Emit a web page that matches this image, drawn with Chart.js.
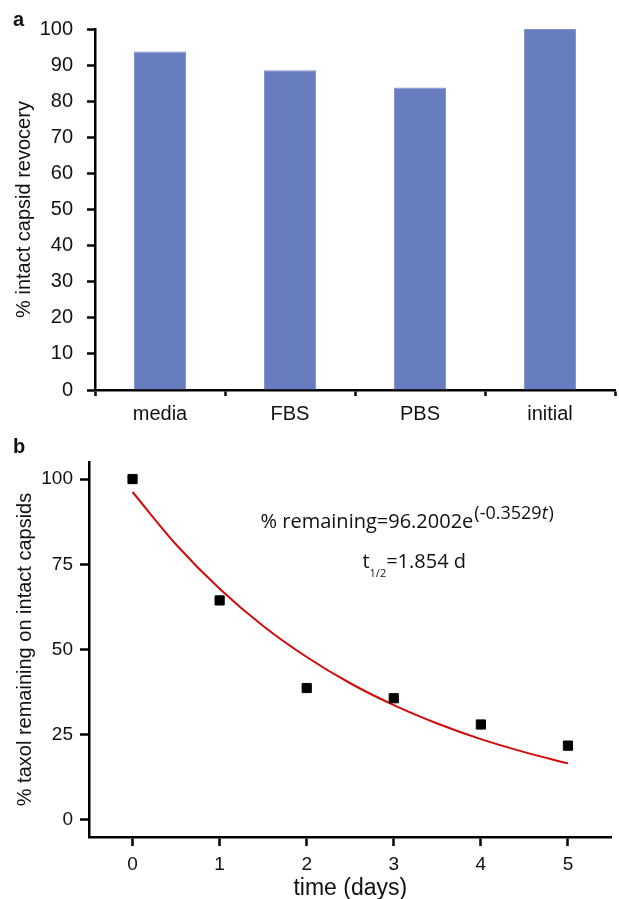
<!DOCTYPE html>
<html>
<head>
<meta charset="utf-8">
<script src="https://cdn.jsdelivr.net/npm/chart.js@4.4.1/dist/chart.umd.min.js"></script>
<style>
  body { margin: 0; background: #fff; width: 619px; height: 899px; position: relative; overflow: hidden; }
  .wrap { position: absolute; left: 0; }
  .panel { position: absolute; left: 13px; font: bold 20px "Liberation Sans", Arial, sans-serif; line-height: 23px; color: #111; }
</style>
</head>
<body>
<div class="wrap" style="top:0"><canvas id="barChart" width="619" height="440"></canvas></div>
<div class="wrap" style="top:440px"><canvas id="decayChart" width="619" height="459"></canvas></div>
<div class="panel" style="top:8px">a</div>
<div class="panel" style="top:435px">b</div>
<script>
// panel a
const barLabels = ['media', 'FBS', 'PBS', 'initial'];
const barValues = [93.8, 88.6, 83.8, 100];
const barTicks = [0, 10, 20, 30, 40, 50, 60, 70, 80, 90, 100];

// panel b - measured points
const dayValues = [0, 1, 2, 3, 4, 5];
const taxolValues = [100, 64.4, 38.7, 35.7, 28.0, 21.8];
// fitted curve
const fitDays = [0, 0.5, 1, 1.5, 2, 2.5, 3, 3.5, 4, 4.5, 5];
const fitValues = [96.2, 80.8, 67.8, 56.9, 47.8, 40.1, 33.7, 28.3, 23.7, 19.9, 16.6];
const taxolTicks = [0, 25, 50, 75, 100];
const dayTicks = [0, 1, 2, 3, 4, 5];

Chart.defaults.font.family = '"Liberation Sans", Arial, sans-serif';
Chart.defaults.color = '#111';
Chart.defaults.animation = false;

const axisLine = { display: true, color: '#000', width: 2.5 };

new Chart(document.getElementById('barChart'), {
    type: 'bar',
    data: {
        labels: barLabels,
        datasets: [{
            data: barValues,
            backgroundColor: '#677dbf',
            borderColor: '#8494cf',
            borderWidth: 1,
            barPercentage: 0.4,
            categoryPercentage: 1
        }]
    },
    options: {
        responsive: false,
        devicePixelRatio: 1,
        layout: { padding: { top: 29, right: 4, left: 0, bottom: 0 } },
        plugins: { legend: { display: false }, tooltip: { enabled: false } },
        scales: {
            x: {
                offset: true,
                grid: { offset: true, drawOnChartArea: false, tickLength: 6, tickColor: '#000', tickWidth: 2.5 },
                border: axisLine,
                ticks: { font: { size: 20 }, padding: 6, maxRotation: 0 },
                afterFit: s => { s.height = 50; }
            },
            y: {
                min: 0,
                max: 100,
                afterBuildTicks: s => { s.ticks = barTicks.map(v => ({ value: v })); },
                grid: { drawOnChartArea: false, tickLength: 8, tickColor: '#000', tickWidth: 2.5 },
                border: axisLine,
                ticks: { font: { size: 20 }, padding: 14 },
                title: { display: true, text: '% intact capsid revocery', font: { size: 20 }, padding: { top: 12, bottom: 0 } },
                afterFit: s => { s.width = 95; }
            }
        }
    }
});

// equation text for panel b
const equationText = {
    id: 'equationText',
    afterDraw(chart) {
        const ctx = chart.ctx;
        const x = chart.scales.x, y = chart.scales.y;
        ctx.save();
        ctx.fillStyle = '#111';
        ctx.textBaseline = 'middle';
        ctx.textAlign = 'left';

        let px = x.getPixelForValue(1.47);
        const py = y.getPixelForValue(87.3);
        ctx.font = '20px "Open Sans"';
        const main = '% remaining=96.2002e';
        ctx.fillText(main, px, py);
        px += ctx.measureText(main).width + 1;
        ctx.font = '18px "Open Sans"';
        ctx.fillText('(-0.3529', px, py - 8);
        px += ctx.measureText('(-0.3529').width;
        ctx.font = 'italic 18px "Open Sans"';
        ctx.fillText('t', px, py - 8);
        px += ctx.measureText('t').width + 1;
        ctx.font = '18px "Open Sans"';
        ctx.fillText(')', px, py - 8);

        let hx = x.getPixelForValue(2.64);
        const hy = y.getPixelForValue(75.6);
        ctx.font = '20px "Open Sans"';
        ctx.fillText('t', hx, hy);
        hx += ctx.measureText('t').width;
        ctx.font = '11px "Open Sans"';
        ctx.fillText('1/2', hx, hy + 12);
        hx += ctx.measureText('1/2').width;
        ctx.font = '20px "Open Sans"';
        ctx.fillText('=1.854 d', hx, hy);
        ctx.restore();
    }
};

new Chart(document.getElementById('decayChart'), {
    type: 'scatter',
    data: {
        datasets: [
            {
                data: dayValues.map((d, i) => ({ x: d, y: taxolValues[i] })),
                backgroundColor: '#000',
                borderColor: '#000',
                pointStyle: 'rect',
                pointRadius: 6.5,
                showLine: false,
                order: 0
            },
            {
                data: fitDays.map((d, i) => ({ x: d, y: fitValues[i] })),
                borderColor: '#d10a0a',
                borderWidth: 2,
                pointRadius: 0,
                showLine: true,
                cubicInterpolationMode: 'monotone',
                order: 1
            }
        ]
    },
    options: {
        responsive: false,
        devicePixelRatio: 1,
        layout: { padding: { top: 22, right: 2, left: 0, bottom: 0 } },
        plugins: { legend: { display: false }, tooltip: { enabled: false } },
        scales: {
            x: {
                min: -0.5,
                max: 5.5,
                afterBuildTicks: s => { s.ticks = dayTicks.map(v => ({ value: v })); },
                grid: { drawOnChartArea: false, tickLength: 9, tickColor: '#000', tickWidth: 2.5 },
                border: axisLine,
                ticks: { font: { size: 19 }, padding: 7 },
                title: { display: true, text: 'time (days)', font: { size: 23 }, padding: { top: 0, bottom: -3 } },
                afterFit: s => { s.height = 62; }
            },
            y: {
                min: -5,
                max: 105,
                afterBuildTicks: s => { s.ticks = taxolTicks.map(v => ({ value: v })); },
                grid: { drawOnChartArea: false, tickLength: 9, tickColor: '#000', tickWidth: 2.5 },
                border: axisLine,
                ticks: { font: { size: 19 }, padding: 7 },
                title: { display: true, text: '% taxol remaining on intact capsids', font: { size: 20 }, padding: { top: 13, bottom: 0 } },
                afterFit: s => { s.width = 89; }
            }
        }
    },
    plugins: [equationText]
});
</script>
</body>
</html>
